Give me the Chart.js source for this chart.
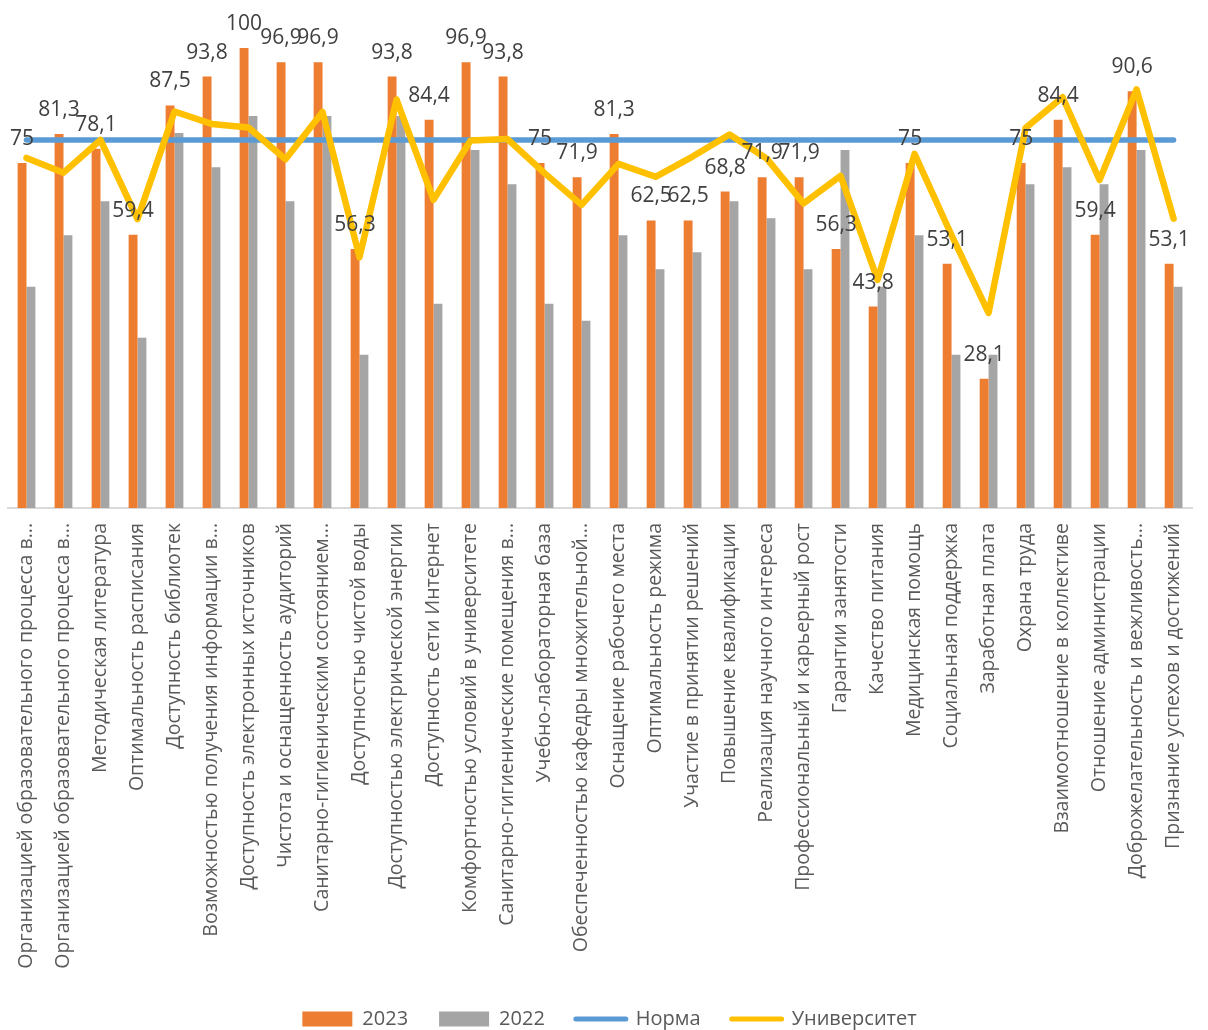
<!DOCTYPE html>
<html>
<head>
<meta charset="utf-8">
<script src="https://cdn.jsdelivr.net/npm/chart.js@4"></script>
<style>
  html, body { margin: 0; padding: 0; background: #fff; overflow: hidden; }
  #wrap { position: absolute; left: 0; top: 0; width: 1212px; height: 1030px; }
</style>
</head>
<body>
<div id="wrap"><canvas id="c"></canvas></div>
<script>
const categories = [
  "Организацией образовательного процесса в...",
  "Организацией образовательного процесса в...",
  "Методическая литература",
  "Оптимальность расписания",
  "Доступность библиотек",
  "Возможностью получения информации в...",
  "Доступность электронных источников",
  "Чистота и оснащенность аудиторий",
  "Санитарно-гигиеническим состоянием...",
  "Доступностью чистой воды",
  "Доступностью электрической энергии",
  "Доступность сети Интернет",
  "Комфортностью условий в университете",
  "Санитарно-гигиенические помещения в...",
  "Учебно-лабораторная база",
  "Обеспеченностью кафедры множительной...",
  "Оснащение рабочего места",
  "Оптимальность режима",
  "Участие в принятии решений",
  "Повышение квалификации",
  "Реализация научного интереса",
  "Профессиональный и карьерный рост",
  "Гарантии занятости",
  "Качество питания",
  "Медицинская помощь",
  "Социальная поддержка",
  "Заработная плата",
  "Охрана труда",
  "Взаимоотношение в коллективе",
  "Отношение администрации",
  "Доброжелательность и вежливость...",
  "Признание успехов и достижений"
];

const values2023 = [75, 81.3, 78.1, 59.4, 87.5, 93.8, 100, 96.9, 96.9, 56.3, 93.8, 84.4, 96.9, 93.8, 75, 71.9,
                    81.3, 62.5, 62.5, 68.8, 71.9, 71.9, 56.3, 43.8, 75, 53.1, 28.1, 75, 84.4, 59.4, 90.6, 53.1];

const values2022 = [48.1, 59.3, 66.7, 37.0, 81.5, 74.1, 85.2, 66.7, 85.2, 33.3, 85.2, 44.4, 77.8, 70.4, 44.4, 40.7,
                    59.3, 51.9, 55.6, 66.7, 63.0, 51.9, 77.8, 48.1, 59.3, 33.3, 33.3, 70.4, 74.1, 70.4, 77.8, 48.1];

const normValues = [80, 80, 80, 80, 80, 80, 80, 80, 80, 80, 80, 80, 80, 80, 80, 80,
                    80, 80, 80, 80, 80, 80, 80, 80, 80, 80, 80, 80, 80, 80, 80, 80];

const universityValues = [76.1, 72.9, 80.0, 62.8, 86.2, 83.5, 82.7, 75.8, 86.1, 54.5, 88.8, 67.0, 79.9, 80.2, 72.8, 65.9,
                          74.8, 72.0, 76.4, 81.2, 76.0, 66.2, 72.2, 49.6, 77.0, 59.3, 42.4, 82.6, 89.3, 71.3, 91.0, 62.9];

const seriesNames = ["2023", "2022", "Норма", "Университет"];

const FONT = "'Open Sans', 'Noto Sans', sans-serif";

const barLabels = {
  id: 'barLabels',
  afterDatasetsDraw(chart) {
    const meta = chart.getDatasetMeta(0);
    const ctx = chart.ctx;
    ctx.save();
    ctx.font = "21px " + FONT;
    ctx.fillStyle = '#404040';
    ctx.textAlign = 'center';
    ctx.textBaseline = 'middle';
    meta.data.forEach((bar, i) => {
      const txt = String(values2023[i]).replace('.', ',');
      ctx.fillText(txt, bar.x, bar.y - 24);
    });
    ctx.restore();
  }
};

new Chart(document.getElementById('c'), {
  data: {
    labels: categories,
    datasets: [
      { type: 'bar', label: seriesNames[0], data: values2023, backgroundColor: '#ED7D31', order: 3,
        categoryPercentage: 0.48, barPercentage: 1.0 },
      { type: 'bar', label: seriesNames[1], data: values2022, backgroundColor: '#A5A5A5', order: 4,
        categoryPercentage: 0.48, barPercentage: 1.0 },
      { type: 'line', label: seriesNames[2], data: normValues, borderColor: '#5B9BD5', backgroundColor: '#5B9BD5',
        borderWidth: 5.5, pointRadius: 0, tension: 0, borderCapStyle: 'round', borderJoinStyle: 'round', order: 2 },
      { type: 'line', label: seriesNames[3], data: universityValues, borderColor: '#FFC000', backgroundColor: '#FFC000',
        borderWidth: 6.5, pointRadius: 0, tension: 0, borderCapStyle: 'round', borderJoinStyle: 'round', order: 1 }
    ]
  },
  options: {
    responsive: true,
    maintainAspectRatio: false,
    animation: false,
    layout: { padding: { left: 8, right: 1, top: 48, bottom: 0 } },
    scales: {
      x: {
        grid: { display: false, drawTicks: false },
        border: { display: true, color: '#D9D9D9', width: 2 },
        ticks: {
          autoSkip: false, maxRotation: 90, minRotation: 90,
          color: '#595959', padding: 15,
          font: { family: FONT, size: 19.5 }
        },
        afterFit(scale) { scale.height = 470; }
      },
      y: { display: false, min: 0, max: 100 }
    },
    plugins: {
      tooltip: { enabled: false },
      legend: {
        position: 'bottom',
        maxHeight: 52,
        labels: {
          color: '#595959',
          font: { family: FONT, size: 20 },
          usePointStyle: true,
          pointStyleWidth: 50,
          boxHeight: 15,
          padding: 31,
          sort: (a, b) => a.datasetIndex - b.datasetIndex,
          generateLabels(chart) {
            const items = Chart.defaults.plugins.legend.labels.generateLabels(chart);
            items.forEach(it => {
              const ds = chart.data.datasets[it.datasetIndex];
              if (ds.type === 'bar') {
                it.pointStyle = 'rect';
                it.lineWidth = 0;
                it.fillStyle = ds.backgroundColor;
                it.strokeStyle = ds.backgroundColor;
              } else {
                it.pointStyle = 'line';
                it.lineWidth = 5;
                it.lineCap = 'round';
                it.strokeStyle = ds.borderColor;
              }
            });
            return items;
          }
        }
      }
    }
  },
  plugins: [barLabels]
});
</script>
</body>
</html>
